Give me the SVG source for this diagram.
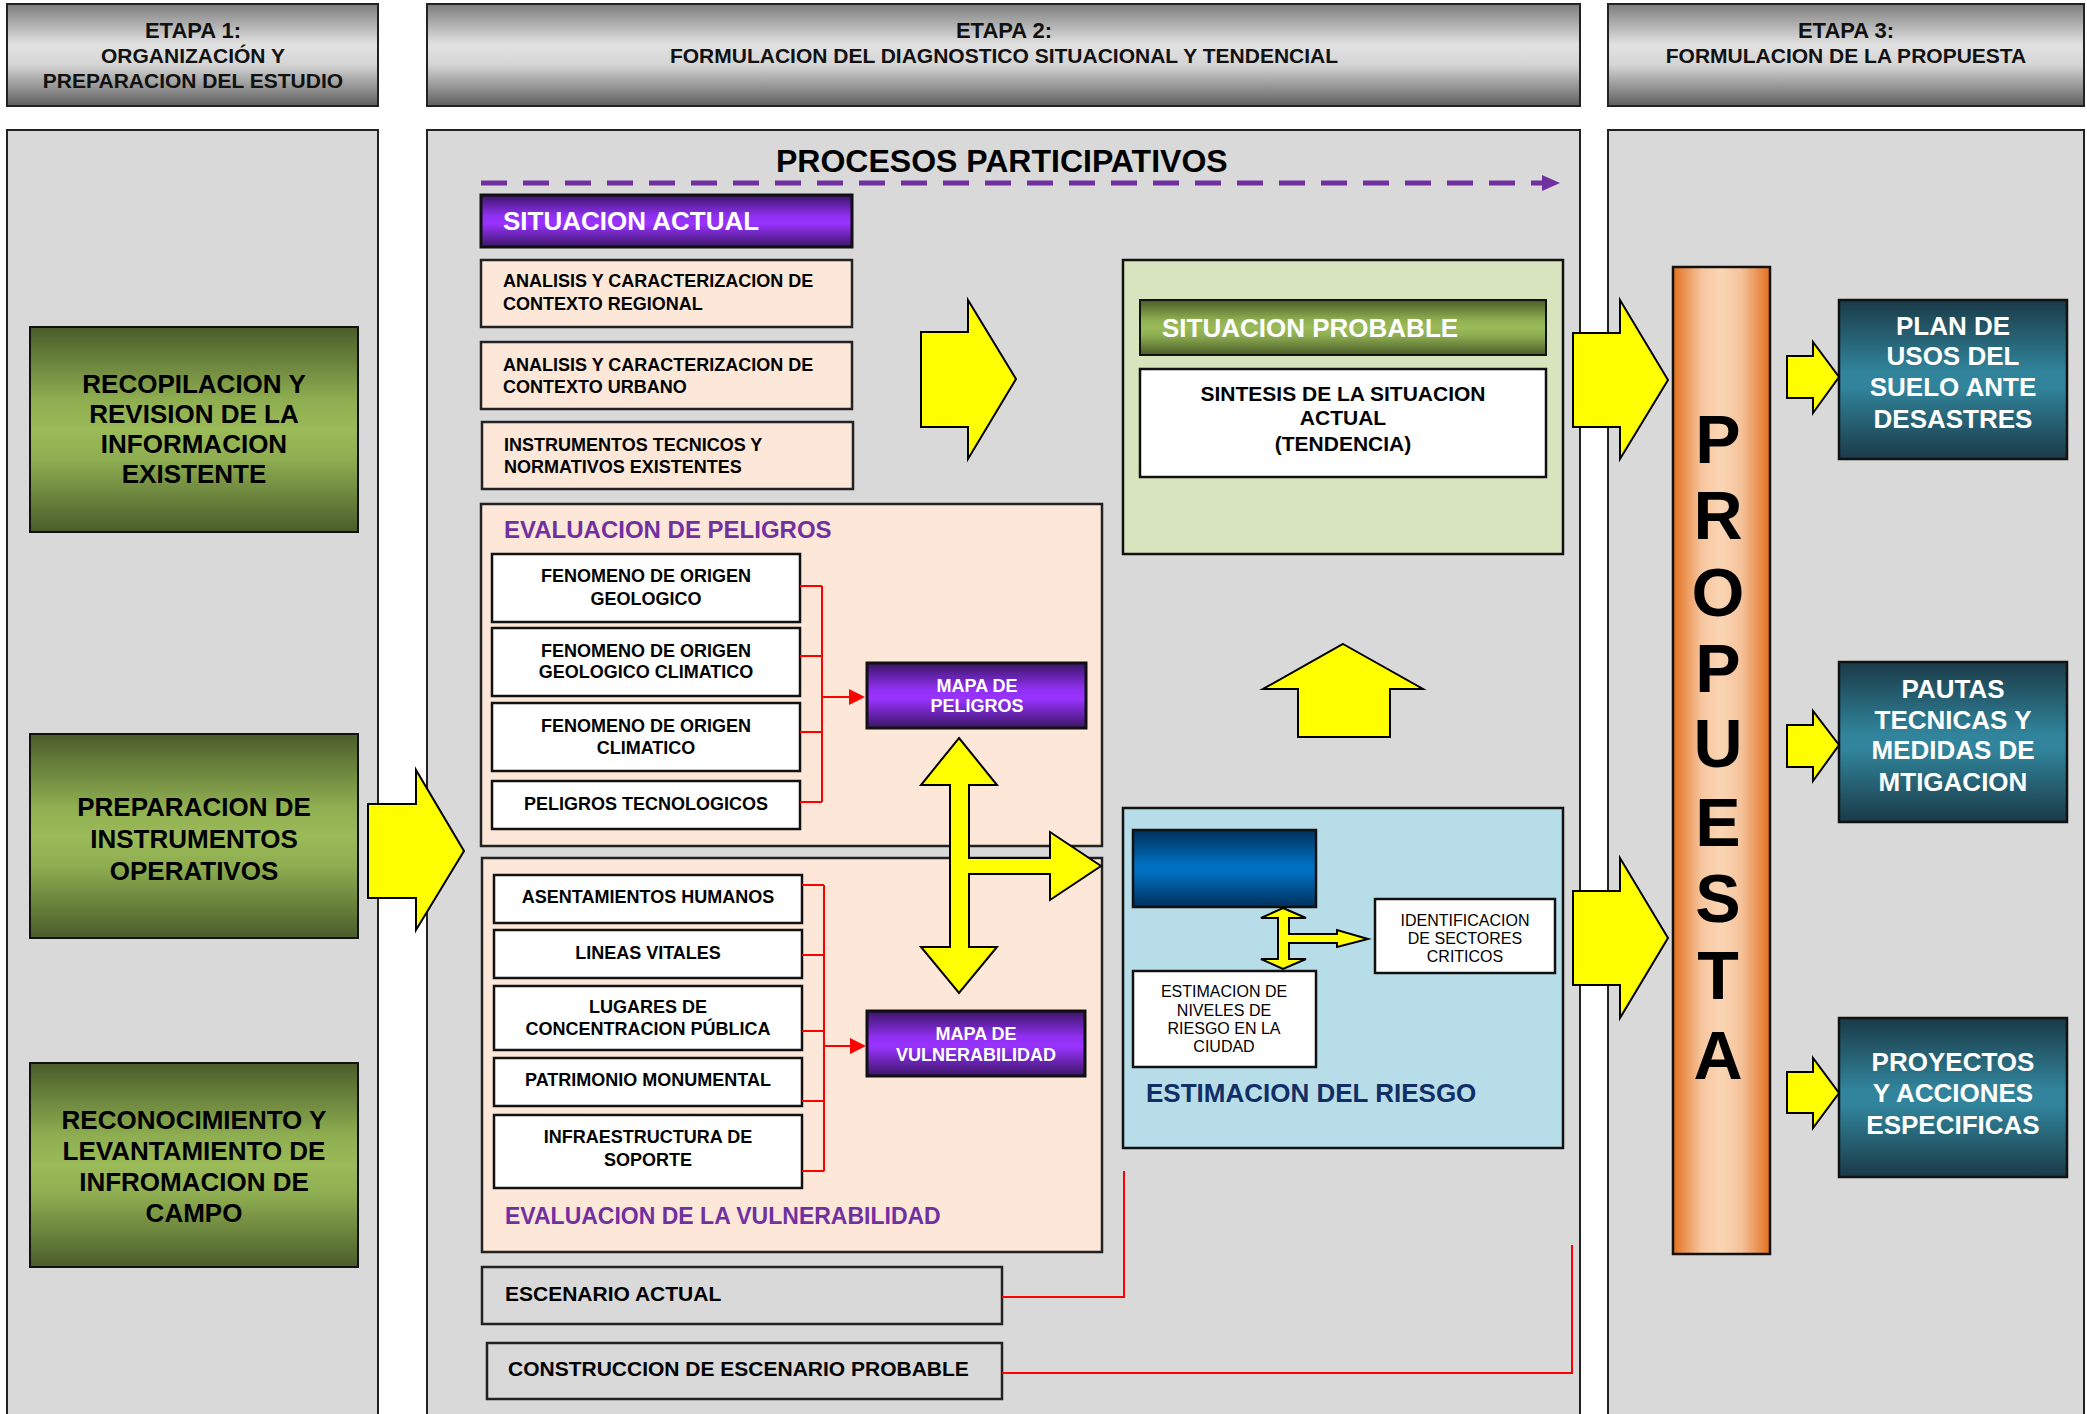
<svg xmlns="http://www.w3.org/2000/svg" width="2087" height="1414" viewBox="0 0 2087 1414">
<defs>
<linearGradient id="gHead" x1="0" y1="0" x2="0" y2="1">
<stop offset="0" stop-color="#7d7d7d"/><stop offset="0.4" stop-color="#e2e2e2"/><stop offset="0.6" stop-color="#d4d4d4"/><stop offset="1" stop-color="#5e5e5e"/>
</linearGradient>
<linearGradient id="gGreen" x1="0" y1="0" x2="0" y2="1">
<stop offset="0" stop-color="#4a5c2a"/><stop offset="0.35" stop-color="#8dad50"/><stop offset="0.5" stop-color="#9bbb59"/><stop offset="0.65" stop-color="#8dad50"/><stop offset="1" stop-color="#4a5c2a"/>
</linearGradient>
<linearGradient id="gPurple" x1="0" y1="0" x2="0" y2="1">
<stop offset="0" stop-color="#3a1566"/><stop offset="0.4" stop-color="#8f30f0"/><stop offset="0.55" stop-color="#9933ff"/><stop offset="1" stop-color="#3a1566"/>
</linearGradient>
<linearGradient id="gTeal" x1="0" y1="0" x2="0" y2="1">
<stop offset="0" stop-color="#1a3a47"/><stop offset="0.45" stop-color="#31849b"/><stop offset="0.55" stop-color="#31849b"/><stop offset="1" stop-color="#1a3a47"/>
</linearGradient>
<linearGradient id="gBlue" x1="0" y1="0" x2="0" y2="1">
<stop offset="0" stop-color="#00305c"/><stop offset="0.45" stop-color="#0070c0"/><stop offset="0.55" stop-color="#0070c0"/><stop offset="1" stop-color="#00305c"/>
</linearGradient>
<linearGradient id="gOrange" x1="0" y1="0" x2="1" y2="0">
<stop offset="0" stop-color="#e3701e"/><stop offset="0.3" stop-color="#f7c7a0"/><stop offset="0.5" stop-color="#fad5b4"/><stop offset="0.7" stop-color="#f5c39c"/><stop offset="1" stop-color="#e3701e"/>
</linearGradient>
</defs>
<style>
.hd{fill:url(#gHead);stroke:#222;stroke-width:2}
.pn{fill:#d9d9d9;stroke:#222;stroke-width:2}
.gr{fill:url(#gGreen);stroke:#111;stroke-width:2}
.pu{fill:url(#gPurple);stroke:#111;stroke-width:3}
.te{fill:url(#gTeal);stroke:#111;stroke-width:2.5}
.pe{fill:#fce7d8;stroke:#222;stroke-width:2.5}
.wh{fill:#ffffff;stroke:#111;stroke-width:2.5}
.gy{fill:#d9d9d9;stroke:#222;stroke-width:2.5}
.ya{fill:#ffff00;stroke:#000;stroke-width:2}
.rl{fill:none;stroke:#ff0000;stroke-width:2}
text{font-family:"Liberation Sans",Arial,sans-serif;font-weight:bold}
.c{text-anchor:middle}
.h1{font-size:22px;fill:#111}
.h2{font-size:21px;fill:#111}
.g26{font-size:26px;fill:#000}
.w26{font-size:26px;fill:#fff}
.b18{font-size:18px;fill:#000}
.w18{font-size:18px;fill:#fff}
.b21{font-size:21px;fill:#000}
.r16{font-size:16px;fill:#000;font-weight:normal}
.pt{font-size:24px;fill:#7030a0}
.big{font-size:68px;fill:#000}
</style>
<rect width="2087" height="1414" fill="#ffffff"/>

<g id="headers">
<rect class="hd" x="7" y="4" width="371" height="102"/>
<text class="h1 c" x="193" y="38">ETAPA 1:</text>
<text class="h2 c" x="193" y="63">ORGANIZACIÓN Y</text>
<text class="h2 c" x="193" y="88">PREPARACION DEL ESTUDIO</text>
<rect class="hd" x="427" y="4" width="1153" height="102"/>
<text class="h1 c" x="1004" y="38">ETAPA 2:</text>
<text class="h2 c" x="1004" y="63">FORMULACION DEL DIAGNOSTICO SITUACIONAL Y TENDENCIAL</text>
<rect class="hd" x="1608" y="4" width="476" height="102"/>
<text class="h1 c" x="1846" y="38">ETAPA 3:</text>
<text class="h2 c" x="1846" y="63">FORMULACION DE LA PROPUESTA</text>
</g>

<g id="panels">
<rect class="pn" x="7" y="130" width="371" height="1300"/>
<rect class="pn" x="427" y="130" width="1153" height="1300"/>
<rect class="pn" x="1608" y="130" width="476" height="1300"/>
</g>

<g id="etapa1">
<g id="recopilacion"><rect class="gr" x="30" y="327" width="328" height="205"/>
<text class="g26 c" x="194" y="393">RECOPILACION Y</text>
<text class="g26 c" x="194" y="423">REVISION DE LA</text>
<text class="g26 c" x="194" y="453">INFORMACION</text>
<text class="g26 c" x="194" y="483">EXISTENTE</text></g>
<g id="preparacion"><rect class="gr" x="30" y="734" width="328" height="204"/>
<text class="g26 c" x="194" y="816">PREPARACION DE</text>
<text class="g26 c" x="194" y="848">INSTRUMENTOS</text>
<text class="g26 c" x="194" y="880">OPERATIVOS</text></g>
<g id="reconocimiento"><rect class="gr" x="30" y="1063" width="328" height="204"/>
<text class="g26 c" x="194" y="1129">RECONOCIMIENTO Y</text>
<text class="g26 c" x="194" y="1160">LEVANTAMIENTO DE</text>
<text class="g26 c" x="194" y="1191">INFROMACION DE</text>
<text class="g26 c" x="194" y="1222">CAMPO</text></g>
</g>

<g id="etapa2">
<text id="procesos" x="776" y="172" style="font-size:32px;fill:#000">PROCESOS PARTICIPATIVOS</text>
<g id="sit-actual"><rect class="pu" x="481" y="195" width="371" height="52"/>
<text class="w26" x="503" y="230">SITUACION ACTUAL</text></g>
<g id="ctx-regional"><rect class="pe" x="481" y="260" width="371" height="67"/>
<text class="b18" x="503" y="287">ANALISIS Y CARACTERIZACION DE</text>
<text class="b18" x="503" y="310">CONTEXTO REGIONAL</text></g>
<g id="ctx-urbano"><rect class="pe" x="481" y="342" width="371" height="67"/>
<text class="b18" x="503" y="371">ANALISIS Y CARACTERIZACION DE</text>
<text class="b18" x="503" y="393">CONTEXTO URBANO</text></g>
<g id="instrumentos"><rect class="pe" x="482" y="422" width="371" height="67"/>
<text class="b18" x="504" y="451">INSTRUMENTOS TECNICOS Y</text>
<text class="b18" x="504" y="473">NORMATIVOS EXISTENTES</text></g>

<g id="eval-peligros"><rect class="pe" x="481" y="504" width="621" height="342"/>
<text class="pt" x="504" y="538">EVALUACION DE PELIGROS</text></g>
<g id="geologico"><rect class="wh" x="492" y="554" width="308" height="68"/>
<text class="b18 c" x="646" y="582">FENOMENO DE ORIGEN</text>
<text class="b18 c" x="646" y="605">GEOLOGICO</text></g>
<g id="geo-climatico"><rect class="wh" x="492" y="628" width="308" height="68"/>
<text class="b18 c" x="646" y="657">FENOMENO DE ORIGEN</text>
<text class="b18 c" x="646" y="678">GEOLOGICO CLIMATICO</text></g>
<g id="climatico"><rect class="wh" x="492" y="703" width="308" height="68"/>
<text class="b18 c" x="646" y="732">FENOMENO DE ORIGEN</text>
<text class="b18 c" x="646" y="754">CLIMATICO</text></g>
<g id="tecnologicos"><rect class="wh" x="492" y="781" width="308" height="48"/>
<text class="b18 c" x="646" y="810">PELIGROS TECNOLOGICOS</text></g>
<g id="mapa-peligros"><rect class="pu" x="867" y="663" width="219" height="65"/>
<text class="w18 c" x="977" y="692">MAPA DE</text>
<text class="w18 c" x="977" y="712">PELIGROS</text></g>

<g id="eval-vuln"><rect class="pe" x="482" y="858" width="620" height="394"/>
<text class="pt" x="505" y="1224" style="font-size:23px">EVALUACION DE LA VULNERABILIDAD</text></g>
<g id="asentamientos"><rect class="wh" x="494" y="875" width="308" height="48"/>
<text class="b18 c" x="648" y="903">ASENTAMIENTOS HUMANOS</text></g>
<g id="lineas"><rect class="wh" x="494" y="930" width="308" height="48"/>
<text class="b18 c" x="648" y="959">LINEAS VITALES</text></g>
<g id="lugares"><rect class="wh" x="494" y="986" width="308" height="64"/>
<text class="b18 c" x="648" y="1013">LUGARES DE</text>
<text class="b18 c" x="648" y="1035">CONCENTRACION PÚBLICA</text></g>
<g id="patrimonio"><rect class="wh" x="494" y="1058" width="308" height="48"/>
<text class="b18 c" x="648" y="1086">PATRIMONIO MONUMENTAL</text></g>
<g id="infraestructura"><rect class="wh" x="494" y="1115" width="308" height="73"/>
<text class="b18 c" x="648" y="1143">INFRAESTRUCTURA DE</text>
<text class="b18 c" x="648" y="1166">SOPORTE</text></g>
<g id="mapa-vuln"><rect class="pu" x="867" y="1011" width="218" height="65"/>
<text class="w18 c" x="976" y="1040">MAPA DE</text>
<text class="w18 c" x="976" y="1061">VULNERABILIDAD</text></g>

<g id="escenario-actual"><rect class="gy" x="482" y="1267" width="520" height="57"/>
<text x="505" y="1301" style="font-size:21px;fill:#000">ESCENARIO ACTUAL</text></g>
<g id="escenario-probable"><rect class="gy" x="487" y="1343" width="515" height="56"/>
<text x="508" y="1376" style="font-size:21px;fill:#000">CONSTRUCCION DE ESCENARIO PROBABLE</text></g>

<g id="sit-probable"><rect x="1123" y="260" width="440" height="294" fill="#d7e4bd" stroke="#111" stroke-width="2.5"/>
<rect class="gr" x="1140" y="300" width="406" height="55" stroke-width="2.5"/>
<text class="w26" x="1162" y="337">SITUACION PROBABLE</text>
<rect class="wh" x="1140" y="369" width="406" height="108"/>
<text class="b21 c" x="1343" y="401">SINTESIS DE LA SITUACION</text>
<text class="b21 c" x="1343" y="425">ACTUAL</text>
<text class="b21 c" x="1343" y="451">(TENDENCIA)</text></g>

<g id="estimacion"><rect x="1123" y="808" width="440" height="340" fill="#b7dde8" stroke="#111" stroke-width="2.5"/>
<rect x="1133" y="830" width="183" height="77" fill="url(#gBlue)" stroke="#111" stroke-width="2.5"/>
<text x="1146" y="1102" style="font-size:26px;fill:#112e66">ESTIMACION DEL RIESGO</text></g>
<g id="niveles"><rect class="wh" x="1133" y="971" width="183" height="96"/>
<text class="r16 c" x="1224" y="997">ESTIMACION DE</text>
<text class="r16 c" x="1224" y="1016">NIVELES DE</text>
<text class="r16 c" x="1224" y="1034">RIESGO EN LA</text>
<text class="r16 c" x="1224" y="1052">CIUDAD</text></g>
<g id="sectores"><rect class="wh" x="1375" y="899" width="180" height="74"/>
<text class="r16 c" x="1465" y="926">IDENTIFICACION</text>
<text class="r16 c" x="1465" y="944">DE SECTORES</text>
<text class="r16 c" x="1465" y="962">CRITICOS</text></g>
</g>

<g id="etapa3">
<g id="propuesta"><rect x="1673" y="267" width="97" height="987" fill="url(#gOrange)" stroke="#111" stroke-width="2.5"/>
<text class="big c" x="1718" y="463">P</text>
<text class="big c" x="1718" y="539">R</text>
<text class="big c" x="1718" y="616">O</text>
<text class="big c" x="1718" y="692">P</text>
<text class="big c" x="1718" y="767">U</text>
<text class="big c" x="1718" y="846">E</text>
<text class="big c" x="1718" y="922">S</text>
<text class="big c" x="1718" y="999">T</text>
<text class="big c" x="1718" y="1079">A</text></g>
<g id="plan-usos"><rect class="te" x="1839" y="300" width="228" height="159"/>
<text class="w26 c" x="1953" y="335">PLAN DE</text>
<text class="w26 c" x="1953" y="365">USOS DEL</text>
<text class="w26 c" x="1953" y="396">SUELO ANTE</text>
<text class="w26 c" x="1953" y="428">DESASTRES</text></g>
<g id="pautas"><rect class="te" x="1839" y="662" width="228" height="160"/>
<text class="w26 c" x="1953" y="698">PAUTAS</text>
<text class="w26 c" x="1953" y="729">TECNICAS Y</text>
<text class="w26 c" x="1953" y="759">MEDIDAS DE</text>
<text class="w26 c" x="1953" y="791">MTIGACION</text></g>
<g id="proyectos"><rect class="te" x="1839" y="1018" width="228" height="159"/>
<text class="w26 c" x="1953" y="1071">PROYECTOS</text>
<text class="w26 c" x="1953" y="1102">Y ACCIONES</text>
<text class="w26 c" x="1953" y="1134">ESPECIFICAS</text></g>
</g>

<g id="connectors">
<line x1="481" y1="183" x2="1546" y2="183" stroke="#7030a0" stroke-width="5" stroke-dasharray="26 16"/>
<polygon points="1542,175 1560,183 1542,191" fill="#7030a0"/>
<polygon class="ya" points="368,804 416,804 416,770 464,851 416,930 416,898 368,898"/>
<polygon class="ya" points="921,332 968,332 968,300 1016,379 968,459 968,427 921,427"/>
<polygon class="ya" points="1573,333 1620,333 1620,300 1668,380 1620,459 1620,427 1573,427"/>
<polygon class="ya" points="1573,891 1620,891 1620,858 1668,938 1620,1018 1620,985 1573,985"/>
<polygon class="ya" points="1787,356 1813,356 1813,342 1839,377 1813,413 1813,398 1787,398"/>
<polygon class="ya" points="1787,725 1813,725 1813,711 1839,745 1813,781 1813,767 1787,767"/>
<polygon class="ya" points="1787,1072 1813,1072 1813,1058 1839,1093 1813,1128 1813,1113 1787,1113"/>
<polygon class="ya" points="1343,644 1423,689 1390,689 1390,737 1298,737 1298,689 1263,689"/>
<polygon class="ya" points="959,738 997,785 969,785 969,858 1050,858 1050,832 1101,866 1050,900 1050,874 969,874 969,947 997,947 959,993 921,947 950,947 950,785 921,785"/>
<polygon class="ya" points="1283,908 1306,918 1289,918 1289,934 1337,934 1337,930 1368,939 1337,947 1337,943 1289,943 1289,959 1306,959 1283,969 1261,959 1278,959 1278,918 1261,918"/>
<path class="rl" d="M800,586H822M800,656H822M800,732H822M800,802H822M822,586V802M822,697H852"/>
<polygon points="849,689 865,697 849,705" fill="#ff0000"/>
<path class="rl" d="M802,885H824M802,955H824M802,1031H824M802,1101H824M802,1171H824M824,885V1171M824,1046H852"/>
<polygon points="850,1038 866,1046 850,1054" fill="#ff0000"/>
<polyline class="rl" points="1002,1297 1124,1297 1124,1171"/>
<polyline class="rl" points="1002,1373 1572,1373 1572,1245"/>
</g>
</svg>
